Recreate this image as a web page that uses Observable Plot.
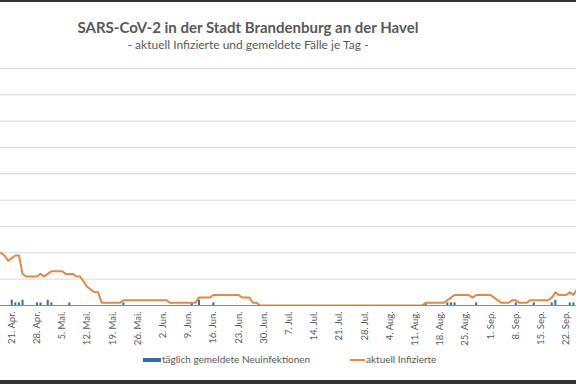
<!DOCTYPE html>
<html><head><meta charset="utf-8">
<script src="https://cdn.jsdelivr.net/npm/d3@7"></script>
<script src="https://cdn.jsdelivr.net/npm/@observablehq/plot@0.6"></script>
<style>
body{margin:0;background:#fff;font-family:Lato,sans-serif;}
#wrap{position:relative;width:576px;height:384px;overflow:hidden;background:#fff;}
#wrap svg{position:absolute;left:0;top:0;}
.bd{position:absolute;left:0;width:576px;background:#333;}
#title{position:absolute;left:0;width:496px;top:18px;line-height:1.2;text-align:center;font-weight:700;font-size:15px;color:#595959;white-space:nowrap;}
#sub{position:absolute;left:0;width:496px;top:37.5px;line-height:1.2;text-align:center;font-size:12px;color:#595959;white-space:nowrap;}
.lg{position:absolute;top:353px;font-size:10px;color:#595959;white-space:nowrap;}
.sw{display:inline-block;vertical-align:middle;margin-right:1px;}
</style></head>
<body>
<div id="wrap">
  <div class="bd" style="top:0;height:2px"></div>
  <div id="title"></div>
  <div id="sub"></div>
  <div id="chart"></div>
  <div class="lg" style="left:143px"><span class="sw" style="width:18px;height:4px;background:#2F6EAA"></span><span id="l1"></span></div>
  <div class="lg" style="left:350px"><span class="sw" style="width:15px;height:2px;background:#E08A45"></span><span id="l2"></span></div>
  <div class="bd" style="top:380px;height:4px"></div>
</div>
<script>
const titleText = "SARS-CoV-2 in der Stadt Brandenburg an der Havel";
const subtitleText = "- aktuell Infizierte und gemeldete Fälle je Tag -";
const seriesNames = ["täglich gemeldete Neuinfektionen", "aktuell Infizierte"];

// aktuell Infizierte, daily from 2020-04-18
const activeStart = "2020-04-18";
const activeCases = [
  20,19,17,18,19,19,12,11,11,11,11,12,11,12,13,13,13,13,12,12,12,11,11,9,7,6,5,5,1,1,1,1,1,1,
  2,2,2,2,2,2,2,2,2,2,2,2,2,
  1,1,1,1,1,1,1,1,
  3,3,3,3,
  4,4,4,4,4,4,4,4,
  3,3,3,
  1,1,
  0,0,0,0,0,0,0,0,0,0,0,0,0,0,0,0,0,0,0,0,0,0,0,0,0,0,0,0,0,0,0,0,0,0,0,0,0,0,0,0,0,0,0,0,0,0,
  1,1,1,1,1,1,2,3,4,4,4,4,4,3,4,4,4,4,4,3,2,1,1,1,2,2,1,1,1,2,2,2,2,2,2,3,5,4,4,4,5,4,6
];

// täglich gemeldete Neuinfektionen
const newCaseDates = ["2020-04-21","2020-04-22","2020-04-23","2020-04-24","2020-04-28","2020-04-29","2020-05-01","2020-05-02","2020-05-07","2020-05-22","2020-06-10","2020-06-12","2020-06-16","2020-08-14","2020-08-20","2020-08-21","2020-08-22","2020-08-28","2020-09-08","2020-09-13","2020-09-18","2020-09-19","2020-09-23","2020-09-24"];
const newCaseValues = [2,1,1,2,1,1,2,1,1,1,1,2,1,1,1,1,1,1,1,1,1,2,1,1];

const tickDates = ["2020-04-21","2020-04-28","2020-05-05","2020-05-12","2020-05-19","2020-05-26","2020-06-02","2020-06-09","2020-06-16","2020-06-23","2020-06-30","2020-07-07","2020-07-14","2020-07-21","2020-07-28","2020-08-04","2020-08-11","2020-08-18","2020-08-25","2020-09-01","2020-09-08","2020-09-15","2020-09-22"];
const monthNames = ["Jan.","Feb.","Mär.","Apr.","Mai.","Jun.","Jul.","Aug.","Sep.","Okt.","Nov.","Dez."];
const yGrid = [10,20,30,40,50,60,70,80,90];

document.getElementById("title").textContent = titleText;
document.getElementById("sub").textContent = subtitleText;
document.getElementById("l1").textContent = seriesNames[0];
document.getElementById("l2").textContent = seriesNames[1];

const start = new Date(activeStart + "T00:00:00Z");
const active = activeCases.map((v, i) => ({date: d3.utcDay.offset(start, i), value: v}));
const bars = newCaseDates.map((d, i) => ({date: new Date(d + "T00:00:00Z"), value: newCaseValues[i]}));

const chart = Plot.plot({
  width: 576, height: 384,
  marginLeft: 0, marginRight: 0, marginTop: 68, marginBottom: 79,
  style: {fontFamily: "Lato, sans-serif", fontSize: "9.5px", color: "#595959", background: "transparent"},
  x: {type: "utc", domain: [new Date("2020-04-17T21:00:00Z"), new Date("2020-09-24T21:00:00Z")],
      ticks: tickDates.map(d => new Date(d + "T00:00:00Z")),
      tickFormat: d => `${d.getUTCDate()}. ${monthNames[d.getUTCMonth()]}`,
      tickRotate: -90, tickSize: 0, tickPadding: 6, label: null},
  y: {domain: [0, 90], axis: null},
  marks: [
    Plot.ruleY(yGrid, {stroke: "#d9d9d9", strokeWidth: 1}),
    Plot.ruleY([0], {stroke: "#8a8a8a", strokeWidth: 1}),
    Plot.ruleX(bars, {x: "date", y1: 0, y2: "value", stroke: "#2F6EAA", strokeWidth: 2}),
    Plot.line(active, {x: "date", y: "value", stroke: "#E08A45", strokeWidth: 2, clip: true})
  ]
});
document.getElementById("chart").appendChild(chart);
</script>
</body></html>
